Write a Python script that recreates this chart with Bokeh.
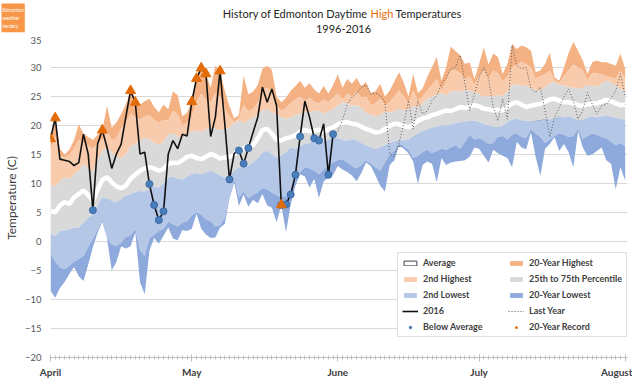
from bokeh.plotting import figure
from bokeh.layouts import column
from bokeh.models import Range1d, FixedTicker, Label, Legend, LegendItem, ColumnDataSource
from bokeh.embed import file_html
from bokeh.resources import INLINE

FONT = "Lato"

# ---- axis data ----
month_labels = ["April", "May", "June", "July", "August"]
month_start_days = [0, 30, 61, 91, 122]
y_ticks = [-20, -15, -10, -5, 0, 5, 10, 15, 20, 25, 30, 35]

# ---- daily series, Apr 1 .. Aug 1 (deg C) ----
highest_20yr = [
    17.7, 21.3, 16.0, 15.0, 15.8, 17.5, 20.2, 18.6, 18.0, 17.5,
    18.4, 19.2, 23.4, 19.6, 20.5, 22.0, 23.6, 26.0, 24.0, 23.6,
    24.2, 24.6, 23.2, 22.3, 23.6, 22.8, 25.9, 25.2, 21.6, 22.2,
    24.1, 28.1, 29.9, 28.9, 26.5, 30.3, 29.4, 26.0, 23.3, 21.2,
    21.8, 28.6, 25.4, 25.8, 27.0, 29.8, 30.3, 29.6, 25.0, 24.0,
    24.8, 26.0, 26.8, 27.7, 26.5, 27.3, 26.2, 25.5, 26.8, 25.5,
    27.0, 28.8, 26.5, 28.0, 27.2, 28.2, 26.8, 27.5, 25.6, 25.9,
    27.2, 25.0, 26.0, 27.6, 29.2, 27.4, 25.0, 28.9, 25.6, 26.4,
    28.4, 30.1, 31.8, 27.7, 30.0, 33.6, 32.8, 32.1, 30.6, 30.9,
    28.0, 30.6, 33.5, 30.5, 32.4, 31.8, 28.9, 30.6, 34.1, 33.2,
    33.8, 33.5, 32.9, 29.2, 29.5, 30.6, 32.6, 28.3, 27.7, 30.0,
    32.5, 34.4, 32.9, 31.2, 28.9, 30.9, 31.2, 30.9, 30.9, 30.6,
    30.3, 32.4, 29.8]
second_highest = [
    15.5, 18.0, 14.8, 14.5, 14.9, 16.0, 17.5, 17.0, 16.5, 16.0,
    16.8, 17.5, 19.0, 17.5, 17.8, 19.5, 20.5, 22.0, 21.5, 21.0,
    21.5, 21.8, 21.0, 20.5, 21.0, 20.8, 22.5, 22.0, 20.0, 20.5,
    21.5, 24.0, 25.5, 24.5, 24.0, 25.5, 25.0, 23.0, 21.5, 20.6,
    21.2, 23.5, 22.5, 22.8, 24.0, 26.0, 26.5, 25.8, 23.5, 22.5,
    23.0, 23.8, 24.5, 25.0, 24.2, 24.8, 24.0, 23.8, 24.5, 24.0,
    24.8, 25.5, 24.5, 25.5, 25.0, 25.8, 24.8, 25.0, 23.5, 23.8,
    24.6, 23.5, 24.0, 25.0, 26.0, 25.0, 23.8, 26.0, 24.2, 25.0,
    26.0, 27.0, 28.0, 26.0, 27.5, 29.5, 29.5, 29.0, 28.0, 28.5,
    27.0, 28.5, 29.5, 28.0, 29.5, 29.0, 27.5, 28.5, 30.0, 30.5,
    31.0, 30.5, 30.0, 28.0, 28.5, 28.8, 29.5, 27.8, 27.3, 28.5,
    29.5, 30.5, 30.0, 29.5, 27.8, 29.0, 29.0, 28.8, 28.5, 28.3,
    28.0, 29.5, 28.0]
pct75 = [
    9.8, 9.5, 10.4, 11.0, 10.8, 11.6, 12.2, 13.4, 12.6, 12.0,
    14.2, 15.6, 16.2, 15.4, 14.6, 14.3, 15.0, 16.4, 16.8, 17.5,
    17.9, 17.6, 17.0, 16.6, 17.2, 18.4, 18.6, 18.2, 17.9, 18.5,
    19.0, 19.1, 18.9, 19.3, 19.7, 19.4, 19.2, 19.4, 19.6, 20.4,
    20.8, 20.4, 20.9, 21.4, 21.8, 22.6, 22.8, 22.3, 21.9, 21.4,
    21.1, 21.4, 21.8, 22.0, 22.4, 22.2, 22.6, 22.5, 22.0, 22.4,
    22.8, 23.4, 24.0, 23.8, 23.4, 23.5, 23.0, 22.2, 21.8, 21.6,
    21.8, 22.4, 22.2, 22.4, 22.9, 22.6, 22.8, 23.3, 23.1, 23.8,
    24.6, 25.0, 25.3, 25.5, 25.2, 25.8, 26.0, 25.8, 26.1, 26.0,
    25.7, 25.4, 24.9, 25.1, 24.9, 25.3, 25.0, 25.9, 26.9, 27.1,
    26.8, 26.9, 26.4, 26.1, 26.0, 26.6, 27.2, 27.5, 27.0, 26.9,
    26.6, 26.5, 26.3, 26.5, 26.9, 26.8, 26.7, 27.2, 27.7, 27.4,
    26.8, 26.3, 26.0]
average = [
    5.3, 5.0, 6.2, 6.8, 6.5, 7.6, 8.2, 8.8, 8.0, 7.0,
    9.0, 10.6, 11.1, 10.2, 9.5, 9.2, 9.6, 10.8, 11.5, 12.2,
    12.6, 12.8, 12.6, 12.2, 12.5, 13.4, 13.6, 13.5, 14.0, 14.6,
    14.8, 14.4, 14.2, 14.6, 15.1, 14.8, 14.3, 14.5, 14.6, 15.0,
    16.0, 16.0, 16.5, 16.6, 17.8, 19.2, 19.4, 18.6, 17.5, 17.4,
    17.8, 18.0, 18.3, 18.9, 19.2, 19.0, 19.1, 19.3, 18.9, 19.4,
    19.7, 20.2, 20.5, 20.6, 20.3, 20.2, 19.8, 19.4, 19.1, 18.8,
    18.9, 19.4, 19.9, 20.3, 20.2, 19.9, 19.7, 20.1, 20.8, 21.2,
    21.4, 21.8, 22.0, 22.3, 22.6, 22.5, 22.8, 23.2, 23.0, 23.3,
    23.5, 23.3, 22.9, 22.8, 22.6, 22.7, 22.6, 23.2, 23.8, 24.0,
    23.6, 23.2, 23.4, 23.6, 23.7, 24.1, 24.5, 24.6, 24.3, 24.0,
    24.0, 23.8, 23.5, 23.4, 23.6, 23.8, 23.8, 24.1, 24.4, 24.2,
    23.8, 23.5, 23.6]
pct25 = [
    1.3, 1.0, 1.8, 1.9, 2.1, 2.4, 2.4, 3.2, 4.1, 4.6,
    6.2, 7.6, 7.4, 7.0, 6.8, 7.3, 7.9, 8.2, 8.5, 8.7,
    8.6, 9.0, 9.5, 9.3, 10.0, 11.0, 11.2, 10.8, 10.7, 11.2,
    11.6, 11.8, 11.6, 11.9, 12.2, 11.8, 11.4, 11.0, 11.3, 12.2,
    12.8, 12.6, 13.1, 13.6, 14.4, 15.3, 15.7, 15.0, 14.5, 14.8,
    15.4, 16.2, 16.0, 16.5, 16.8, 17.0, 17.4, 17.4, 17.2, 17.6,
    18.0, 17.8, 17.5, 17.4, 17.6, 17.4, 17.0, 16.6, 16.2, 16.0,
    16.2, 16.6, 17.0, 17.3, 17.5, 17.4, 17.6, 18.2, 18.6, 19.1,
    19.3, 19.6, 19.8, 20.0, 20.0, 20.2, 20.4, 20.6, 20.7, 20.8,
    20.8, 20.6, 20.2, 20.0, 19.8, 19.7, 19.9, 20.6, 21.0, 21.2,
    20.9, 20.8, 20.6, 20.8, 20.9, 21.1, 21.0, 21.2, 21.5, 21.4,
    21.6, 21.3, 20.9, 21.0, 21.4, 21.6, 21.4, 21.6, 21.7, 21.5,
    21.3, 21.1, 21.0]
second_lowest = [
    -2.0, -3.5, -4.5, -4.8, -4.2, -3.5, -3.0, -2.5, -1.0, 0.5,
    2.0, 3.8, 0.5, -0.5, -0.8, -0.2, 0.8, 1.0, 2.2, -1.5,
    -2.5, 0.5, 1.2, 1.8, 2.2, 3.4, 3.0, 2.6, 3.2, 3.5,
    4.5, 5.0, 4.6, 3.8, 3.5, 2.6, 2.8, 4.0, 7.8, 10.8,
    7.6, 8.6, 7.5, 8.0, 8.5, 9.2, 9.0, 8.4, 8.0, 7.6,
    7.8, 9.0, 10.6, 12.0, 12.8, 12.6, 12.2, 11.6, 12.4, 13.2,
    13.6, 14.0, 14.2, 13.6, 13.0, 12.6, 13.2, 14.0, 13.4, 12.8,
    12.2, 13.6, 15.0, 15.6, 16.9, 16.4, 15.8, 14.4, 14.8, 15.4,
    15.8, 15.2, 15.6, 16.0, 15.8, 16.2, 16.6, 16.0, 17.2, 18.4,
    17.6, 17.8, 17.4, 16.8, 17.0, 18.0, 18.2, 17.6, 18.4, 18.6,
    18.0, 17.8, 19.4, 18.6, 18.0, 17.0, 17.6, 18.2, 18.6, 18.4,
    18.0, 18.2, 19.4, 17.6, 18.2, 18.6, 18.4, 18.0, 17.8, 17.2,
    16.6, 17.0, 16.4]
lowest_20yr = [
    -8.5, -9.7, -8.0, -7.0, -5.6, -4.4, -6.0, -6.8, -4.0, -1.0,
    1.5, 3.4, 0.5, -5.0, -3.5, -0.8, -1.2, -0.8, 1.6, -7.0,
    -9.1, -1.6, 0.6, -0.4, 1.0, 2.4, 0.5, 0.2, 2.0, 1.8,
    2.2, 4.8, 2.2, 1.2, 0.6, 0.7, 2.4, 3.0, 7.4, 10.2,
    6.1, 8.1, 6.0, 7.2, 6.6, 8.2, 6.2, 5.8, 3.3, 6.3,
    1.6, 6.4, 9.6, 11.6, 11.2, 9.3, 10.8, 7.5, 10.4, 11.0,
    11.5, 13.0, 12.4, 12.0, 11.4, 10.4, 11.8, 13.6, 13.0, 11.4,
    9.6, 8.6, 13.2, 14.0, 16.6, 16.0, 15.2, 13.8, 9.9, 13.2,
    13.8, 13.4, 10.2, 14.4, 13.2, 13.6, 13.8, 13.9, 14.0, 14.6,
    16.2, 16.0, 14.8, 13.6, 15.8, 15.2, 14.8, 14.4, 12.8, 17.2,
    16.2, 15.9, 18.8, 14.6, 11.3, 16.0, 16.8, 18.0, 15.6, 16.8,
    15.4, 12.8, 19.0, 16.2, 14.8, 15.0, 15.6, 16.2, 14.0, 13.4,
    9.0, 12.8, 10.5]

# 2016 highs, Apr 1 .. May 31
temp_2016 = [
    17.7, 21.3, 14.2, 14.0, 13.8, 13.1, 13.6, 18.5, 15.1, 5.4,
    16.8, 19.2, 16.2, 12.6, 15.1, 16.8, 21.5, 26.0, 24.0, 15.1,
    15.4, 9.9, 6.3, 3.7, 5.2, 15.1, 17.4, 16.0, 18.5, 18.2,
    24.1, 28.1, 29.9, 28.9, 18.1, 21.4, 29.4, 20.3, 10.7, 15.2,
    15.7, 13.4, 16.1, 18.8, 21.4, 26.6, 24.0, 26.3, 23.4, 6.3,
    6.4, 8.1, 11.5, 18.1, 24.2, 21.4, 17.8, 17.4, 20.3, 11.5,
    18.5]
# last year's highs, Jun 1 .. Aug 1
last_year_first_day = 61
last_year = [
    19.0, 21.0, 23.6, 24.9, 25.5, 26.6, 27.0, 25.4, 25.6, 25.2,
    24.0, 15.3, 14.6, 17.0, 20.3, 24.3, 19.4, 24.3, 22.0, 22.5,
    24.3, 25.2, 27.2, 28.3, 29.8, 30.1, 32.1, 27.2, 22.6, 25.4,
    28.3, 30.0, 28.0, 23.1, 20.8, 24.6, 21.1, 33.8, 30.3, 29.8,
    30.0, 26.3, 25.7, 26.6, 22.6, 18.0, 21.4, 23.1, 24.9, 26.3,
    24.3, 21.1, 22.6, 25.7, 23.7, 22.0, 23.4, 23.7, 24.6, 26.0,
    28.9, 25.1]
below_average_days = [9, 21, 22, 23, 24, 38, 40, 41, 42, 49, 50, 51, 52, 53, 56, 57, 59, 60]
record_days = [0, 1, 11, 17, 18, 30, 31, 32, 33, 36, 49]

days = list(range(len(average)))
src = ColumnDataSource(dict(day=days, h1=highest_20yr, h2=second_highest, p75=pct75,
                            avg=average, p25=pct25, l2=second_lowest, l1=lowest_20yr))

# ---------------- header (logo + title) ----------------
header = figure(width=632, height=36, x_range=Range1d(0, 632), y_range=Range1d(0, 36),
                output_backend="svg", toolbar_location=None, min_border=0,
                x_axis_location=None, y_axis_location=None)
header.frame_align = False
header.title.visible = False
header.outline_line_color = None
header.xgrid.visible = False
header.ygrid.visible = False

header.add_layout(Label(x=1, y=33, x_units="screen", y_units="screen",
                        text="Edmonton\nweather\nnerdery", text_align="left", text_baseline="top",
                        text_font=FONT, text_font_size="4.7px", text_line_height=1.4,
                        text_color="white", background_fill_color="#F79646",
                        padding=dict(left=1, right=1, top=3, bottom=3)))
header.add_layout(Label(x=367, y=22.7, x_units="screen", y_units="screen",
                        text="History of Edmonton Daytime", text_align="right",
                        text_baseline="middle", text_font=FONT, text_font_size="11px",
                        text_color="#262626"))
header.add_layout(Label(x=381.5, y=22.7, x_units="screen", y_units="screen",
                        text="High", text_align="center", text_baseline="middle",
                        text_font=FONT, text_font_size="11px", text_color="#E36C09"))
header.add_layout(Label(x=395, y=22.7, x_units="screen", y_units="screen",
                        text="Temperatures", text_align="left", text_baseline="middle",
                        text_font=FONT, text_font_size="11px", text_color="#262626"))
header.add_layout(Label(x=343, y=7.7, x_units="screen", y_units="screen",
                        text="1996-2016", text_align="center", text_baseline="middle",
                        text_font=FONT, text_font_size="11px", text_color="#262626"))

# ---------------- main chart ----------------
p = figure(width=632, height=344, x_range=Range1d(0, 122.5), y_range=Range1d(-20, 35),
           output_backend="svg", toolbar_location=None,
           min_border_left=46, min_border_right=5, min_border_top=2, min_border_bottom=23)
p.frame_align = False
p.title.visible = False
p.outline_line_color = None
p.background_fill_color = "white"
p.border_fill_color = "white"

# key for "Average" in the legend (its outline lies under the opaque bands)
avg_key = p.patch(x=days, y=average, fill_color="white", line_color="#404040",
                  line_width=1, level="underlay")
r_h1 = p.varea(x="day", y1="h2", y2="h1", source=src, fill_color="#F4B183")
r_h2 = p.varea(x="day", y1="p75", y2="h2", source=src, fill_color="#F8CBAD")
r_iqr = p.varea(x="day", y1="p25", y2="p75", source=src, fill_color="#D9D9D9")
r_l2 = p.varea(x="day", y1="l2", y2="p25", source=src, fill_color="#B4C7E7")
r_l1 = p.varea(x="day", y1="l1", y2="l2", source=src, fill_color="#8EA9DB")
p.line(x="day", y="avg", source=src, line_color="white", line_width=4.5)

r_ly = p.line(x=list(range(last_year_first_day, last_year_first_day + len(last_year))),
              y=last_year, line_color="#595959", line_width=1, line_dash="1 2")
r_2016 = p.line(x=days[:len(temp_2016)], y=temp_2016, line_color="#111111", line_width=1.6)
r_below = p.scatter(x=below_average_days, y=[temp_2016[d] for d in below_average_days],
                    marker="circle", size=7, fill_color="#4A7EBB", line_color="#3B6AA6")
r_rec = p.scatter(x=record_days, y=[temp_2016[d] for d in record_days],
                  marker="triangle", size=10, fill_color="#E36C09", line_color="#E36C09")

# axes
p.xgrid.visible = False
p.ygrid.ticker = FixedTicker(ticks=y_ticks)
p.ygrid.grid_line_color = "#D9D9D9"
p.yaxis.ticker = FixedTicker(ticks=y_ticks)
p.yaxis.axis_line_color = None
p.yaxis.major_tick_line_color = None
p.yaxis.minor_tick_line_color = None
p.yaxis.major_tick_out = 0
p.yaxis.minor_tick_out = 0
p.yaxis.major_label_text_font = FONT
p.yaxis.major_label_text_font_size = "9.5px"
p.yaxis.major_label_text_color = "#595959"
p.yaxis.major_label_standoff = 9
p.yaxis.axis_label = "Temperature (C)"
p.yaxis.axis_label_text_font = FONT
p.yaxis.axis_label_text_font_size = "12px"
p.yaxis.axis_label_text_font_style = "normal"
p.yaxis.axis_label_text_color = "#404040"
p.yaxis.axis_label_standoff = 3

p.xaxis.ticker = FixedTicker(ticks=month_start_days, minor_ticks=days)
p.xaxis.major_label_overrides = {d: m for d, m in zip(month_start_days, month_labels)}
p.xaxis.axis_line_color = "#BFBFBF"
p.xaxis.major_tick_line_color = "#BFBFBF"
p.xaxis.minor_tick_line_color = "#BFBFBF"
p.xaxis.major_tick_in = 3
p.xaxis.major_tick_out = 4
p.xaxis.minor_tick_in = 2
p.xaxis.minor_tick_out = 2
p.xaxis.major_label_text_font = FONT
p.xaxis.major_label_text_font_size = "10px"
p.xaxis.major_label_text_font_style = "bold"
p.xaxis.major_label_text_color = "#404040"
p.xaxis.major_label_standoff = 4

# legend
items = [
    LegendItem(label="Average", renderers=[avg_key]),
    LegendItem(label="2nd Highest", renderers=[r_h2]),
    LegendItem(label="2nd Lowest", renderers=[r_l2]),
    LegendItem(label="2016", renderers=[r_2016]),
    LegendItem(label="Below Average", renderers=[r_below]),
    LegendItem(label="20-Year Highest", renderers=[r_h1]),
    LegendItem(label="25th to 75th Percentile", renderers=[r_iqr]),
    LegendItem(label="20-Year Lowest", renderers=[r_l1]),
    LegendItem(label="Last Year", renderers=[r_ly]),
    LegendItem(label="20-Year Record", renderers=[r_rec]),
]
legend = Legend(items=items, ncols=2, location=(347, 20), orientation="vertical",
                label_text_font=FONT, label_text_font_size="9px", label_text_font_style="bold",
                label_text_color="#404040", glyph_width=16, glyph_height=6,
                label_height=10, label_width=80, label_standoff=5, spacing=5, padding=4,
                margin=0, border_line_color="#BFBFBF", background_fill_color="white",
                background_fill_alpha=1)
p.add_layout(legend)

layout = column(header, p, spacing=0)
open("out.html", "w").write(file_html(layout, INLINE))
